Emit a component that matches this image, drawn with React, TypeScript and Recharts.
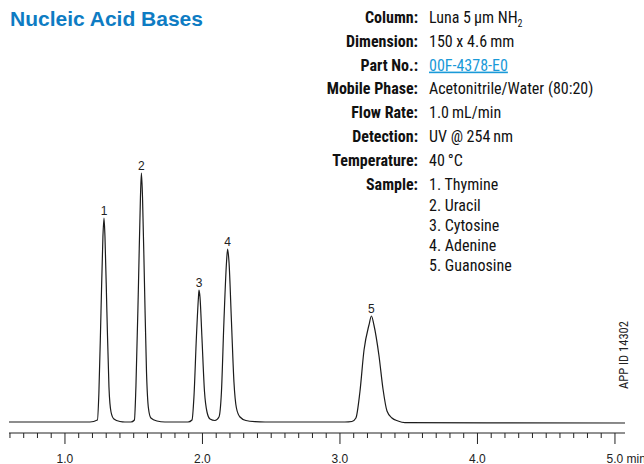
import { LineChart, Line, XAxis, YAxis, ReferenceDot } from "recharts"

// chromatogram trace: time (min) and detector signal (arbitrary units)
const times = [
  0.593, 1.182, 1.236, 1.247, 1.262, 1.276, 1.284, 1.291, 1.305, 1.32, 1.335, 1.356, 1.4, 1.436,
  1.48, 1.505, 1.516, 1.535, 1.549, 1.556, 1.564, 1.578, 1.593, 1.607, 1.625, 1.669, 1.727,
  1.895, 1.924, 1.938, 1.956, 1.971, 1.975, 1.982, 1.996, 2.015, 2.033, 2.055, 2.091,
  2.12, 2.138, 2.156, 2.175, 2.183, 2.193, 2.211, 2.229, 2.247, 2.273, 2.316, 2.382, 2.455,
  3.036, 3.087, 3.116, 3.145, 3.175, 3.211, 3.229, 3.247, 3.284, 3.313, 3.342, 3.378, 3.422, 3.473,
  5.073,
]
const signal = [
  0, 0, 2, 30, 110, 185, 204, 185, 110, 35, 10, 3, 0.5, 0,
  0, 2, 35, 140, 225, 249, 225, 140, 50, 14, 4, 1, 0,
  0, 2, 25, 85, 125, 132, 125, 85, 30, 10, 3, 1.5,
  5, 30, 100, 160, 173, 160, 100, 40, 14, 5, 1.5, 0.3, 0,
  0, 0.5, 4, 30, 72, 97, 106, 97, 66, 33, 11, 4, 1, -0.6,
  -1,
]

// peak labels
const peakNames = ["1", "2", "3", "4", "5"]
const peakTimes = [1.284, 1.556, 1.975, 2.183, 3.229]
const peakHeights = [204, 249, 132, 173, 106]

// x axis ticks (minor every 0.1 min, labelled every 1 min)
const xTicks = [
  0.6, 0.7, 0.8, 0.9, 1.0, 1.1, 1.2, 1.3, 1.4, 1.5, 1.6, 1.7, 1.8, 1.9, 2.0, 2.1, 2.2, 2.3, 2.4,
  2.5, 2.6, 2.7, 2.8, 2.9, 3.0, 3.1, 3.2, 3.3, 3.4, 3.5, 3.6, 3.7, 3.8, 3.9, 4.0, 4.1, 4.2, 4.3,
  4.4, 4.5, 4.6, 4.7, 4.8, 4.9, 5.0,
]

// method conditions
const condLabels = ["Column:", "Dimension:", "Part No.:", "Mobile Phase:", "Flow Rate:", "Detection:", "Temperature:", "Sample:"]
const condValues = ["Luna 5\u2009\u00b5m NH", "150 x 4.6\u2009mm", "00F-4378-E0", "Acetonitrile/Water (80:20)", "1.0\u2009mL/min", "UV @ 254\u2009nm", "40\u2009\u00b0C", "1. Thymine"]
const sampleRest = ["2. Uracil", "3. Cytosine", "4. Adenine", "5. Guanosine"]

const data = times.map((t, i) => ({ t, v: signal[i] }))

const condFont = '"Liberation Sans Narrow", "Arial Narrow", "Roboto Condensed", "Roboto", sans-serif'

const AxisTick = (props: any) => {
  const { x, y, payload } = props
  const v = payload.value
  const major = Math.abs(v - Math.round(v)) < 1e-6
  const last = Math.abs(v - 5) < 1e-6
  return (
    <g>
      <line x1={x} x2={x} y1={y} y2={y + (major ? 11 : 5)} stroke="#222" strokeWidth={1} />
      {major && (
        <text
          x={last ? x - 8.5 : x}
          y={y + 29.5}
          textAnchor={last ? "start" : "middle"}
          fontSize={12}
          fontFamily="Liberation Sans, Arial, sans-serif"
          fill="#222"
        >
          {last ? "5.0 min" : v.toFixed(1)}
        </text>
      )}
    </g>
  )
}

export default function App() {
  const rowY = [23, 46.8, 70.6, 94.4, 118.2, 142, 165.8, 189.6]
  return (
    <div style={{ position: "absolute", left: 0, top: 0, width: 644, height: 464, background: "#fff", overflow: "hidden" }}>
      <LineChart width={644} height={464} data={data} margin={{ top: 133, right: 19, bottom: 0, left: 9 }}>
        <XAxis
          dataKey="t"
          type="number"
          domain={[0.593, 5.073]}
          ticks={xTicks}
          interval={0}
          height={31}
          tickSize={0}
          tickMargin={0}
          tick={<AxisTick />}
          axisLine={{ stroke: "#222", strokeWidth: 1 }}
          allowDataOverflow
        />
        <YAxis hide domain={[-11, 289]} allowDataOverflow />
        <Line type="monotone" dataKey="v" stroke="#1c1c1c" strokeWidth={1.2} dot={false} isAnimationActive={false} />
        {peakNames.map((n, i) => (
          <ReferenceDot
            key={n}
            x={peakTimes[i]}
            y={peakHeights[i]}
            r={0}
            stroke="none"
            label={{ value: n, position: "top", offset: 3, fontSize: 12, fill: "#222", fontFamily: "Liberation Sans, Arial, sans-serif" }}
          />
        ))}
      </LineChart>
      <svg width={644} height={464} style={{ position: "absolute", left: 0, top: 0, pointerEvents: "none" }}>
        <text x={10} y={26} fontSize={21} fontWeight="bold" fill="#0e7cc3" fontFamily="Liberation Sans, Arial, sans-serif">
          Nucleic Acid Bases
        </text>
        {condLabels.map((l, i) => (
          <text key={l} x={418} y={rowY[i]} textAnchor="end" fontSize={16} fontWeight="bold" fill="#111" fontFamily={condFont}>
            {l}
          </text>
        ))}
        {condValues.map((v, i) => (
          <text
            key={v}
            x={429}
            y={rowY[i]}
            fontSize={16}
            fill={i === 2 ? "#1a9ad8" : "#111"}
            textDecoration={i === 2 ? "underline" : undefined}
            fontFamily={condFont}
          >
            {v}
            {i === 0 && (
              <tspan fontSize={10} dy={4}>
                2
              </tspan>
            )}
          </text>
        ))}
        {sampleRest.map((s, i) => (
          <text key={s} x={429} y={210.5 + i * 20} fontSize={16} fill="#111" fontFamily={condFont}>
            {s}
          </text>
        ))}
        <text
          transform="translate(628,355) rotate(-90)"
          textAnchor="middle"
          fontSize={12.5}
          fill="#222"
          fontFamily={condFont}
        >
          APP ID 14302
        </text>
      </svg>
    </div>
  )
}
